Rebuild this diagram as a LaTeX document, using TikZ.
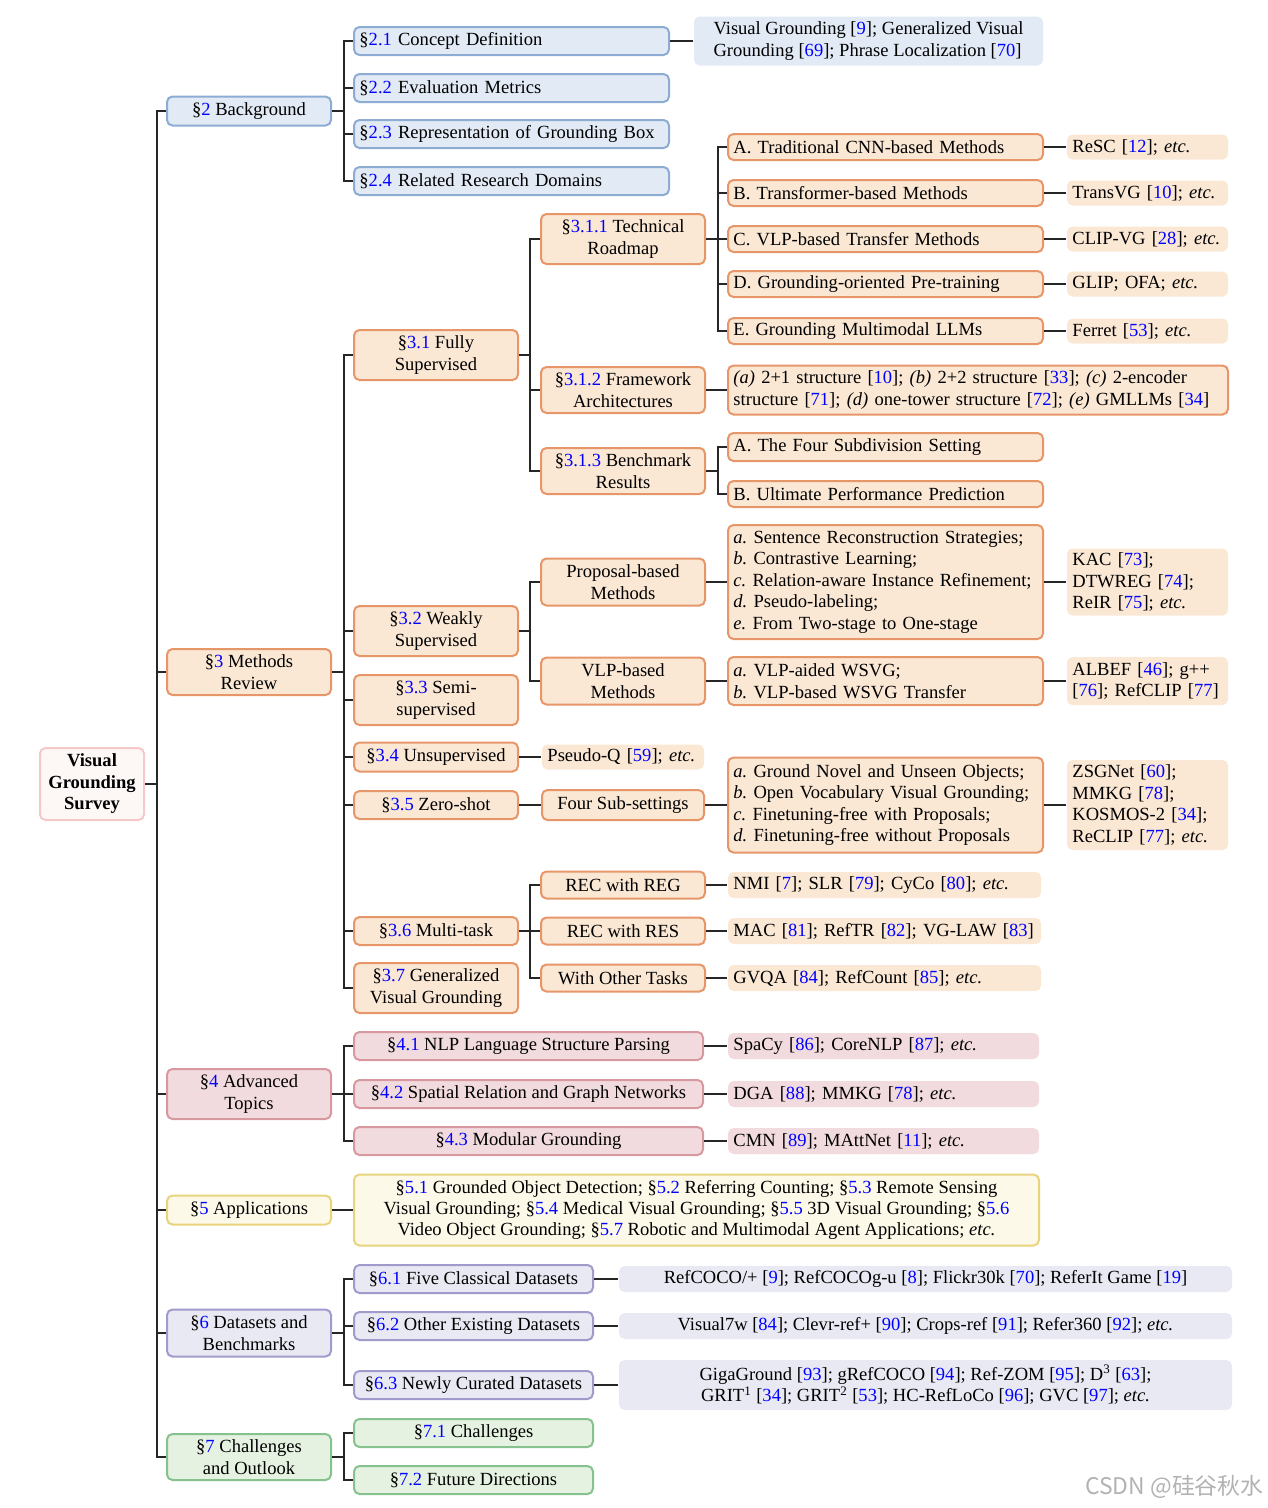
\documentclass[tikz,border=0pt]{standalone}
\usepackage{fontspec}
\setmainfont{Liberation Serif}
\newfontfamily\wmfont{Noto Sans CJK SC}
\newlength\pxu
\setlength\pxu{0.55pt}
\definecolor{secblue}{RGB}{0,0,255}
\definecolor{bluF}{RGB}{226,234,245}
\definecolor{bluD}{RGB}{140,172,212}
\definecolor{oraF}{RGB}{250,231,212}
\definecolor{oraD}{RGB}{231,150,106}
\definecolor{pnkF}{RGB}{242,219,222}
\definecolor{pnkD}{RGB}{216,152,160}
\definecolor{yelF}{RGB}{253,249,233}
\definecolor{yelD}{RGB}{233,212,126}
\definecolor{lavF}{RGB}{233,233,244}
\definecolor{lavD}{RGB}{160,155,204}
\definecolor{grnF}{RGB}{230,242,225}
\definecolor{grnD}{RGB}{134,194,142}
\definecolor{rootF}{RGB}{253,247,246}
\definecolor{rootD}{RGB}{246,200,200}
\newcommand\secn[1]{\textcolor{secblue}{#1}}
\newcommand\cit[1]{[\textcolor{secblue}{#1}]}
\newcommand\etcx{\textit{etc.}}
\newcommand\tbranch[3]{\draw[conn] (#1.east) -| ([xshift=-#3\pxu]#2.west) -- (#2.west);}
\newcommand\tlink[2]{\draw[conn] (#1.east) -- (#2.west);}
\newcommand\basefont{\fontsize{10.2}{11.8}\selectfont\frenchspacing\hyphenpenalty=10000\exhyphenpenalty=10000}
\tikzset{
  every node/.style={font=\basefont, inner xsep=3pt, inner ysep=1pt},
  bx/.style 2 args={rounded corners=3pt, line width=1.1pt, minimum width=#1*\pxu, minimum height=#2*\pxu, anchor=west},
  lt/.style 2 args={bx={#1}{#2}, text width=#1*\pxu-6pt, align=left},
  ct/.style 2 args={bx={#1}{#2}, align=center},
  cB/.style={draw=bluD, fill=bluF},
  cO/.style={draw=oraD, fill=oraF},
  cP/.style={draw=pnkD, fill=pnkF},
  cY/.style={draw=yelD, fill=yelF},
  cL/.style={draw=lavD, fill=lavF},
  cG/.style={draw=grnD, fill=grnF},
  cR/.style={draw=rootD, fill=rootF},
  pB/.style={fill=bluF, draw=none},
  pO/.style={fill=oraF, draw=none},
  pP/.style={fill=pnkF, draw=none},
  pL/.style={fill=lavF, draw=none},
  conn/.style={line width=0.6pt, draw=black!85},
}
\begin{document}
\begin{tikzpicture}[x=0.55pt, y=-0.55pt]
\useasboundingbox (0,0) rectangle (1268,1508);
% root
\node[ct={104}{72}, cR, font=\basefont\bfseries] (root) at (39,784) {Visual\\Grounding\\Survey};
% level 1
\node[ct={164}{29}, cB] (s2) at (166,111) {§\secn{2} Background};
\node[ct={164}{46}, cO] (s3) at (166,672) {§\secn{3} Methods\\Review};
\node[ct={164}{50}, cP] (s4) at (166,1094) {§\secn{4} Advanced\\Topics};
\node[ct={164}{29}, cY] (s5) at (166,1210) {§\secn{5} Applications};
\node[ct={164}{47}, cL] (s6) at (166,1333) {§\secn{6} Datasets and\\Benchmarks};
\node[ct={164}{46}, cG] (s7) at (166,1457) {§\secn{7} Challenges\\and Outlook};
% section 2
\node[lt={315}{28}, cB] (s21) at (353,41) {§\secn{2.1} Concept Definition};
\node[lt={315}{28}, cB] (s22) at (353,88) {§\secn{2.2} Evaluation Metrics};
\node[lt={315}{28}, cB] (s23) at (353,134) {§\secn{2.3} Representation of Grounding Box};
\node[lt={315}{28}, cB] (s24) at (353,181) {§\secn{2.4} Related Research Domains};
\node[bx={349}{49}, pB, align=left] (l21) at (693,41) {Visual Grounding \cit{9}; Generalized Visual\\Grounding \cit{69}; Phrase Localization \cit{70}};
% section 3
\node[ct={164}{50}, cO] (s31) at (353,355) {§\secn{3.1} Fully\\Supervised};
\node[ct={164}{50}, cO] (s32) at (353,631) {§\secn{3.2} Weakly\\Supervised};
\node[ct={164}{50}, cO] (s33) at (353,700) {§\secn{3.3} Semi-\\supervised};
\node[ct={164}{29}, cO] (s34) at (353,757) {§\secn{3.4} Unsupervised};
\node[ct={164}{28}, cO] (s35) at (353,805) {§\secn{3.5} Zero-shot};
\node[ct={164}{28}, cO] (s36) at (353,931) {§\secn{3.6} Multi-task};
\node[ct={164}{50}, cO] (s37) at (353,988) {§\secn{3.7} Generalized\\Visual Grounding};
% 3.1
\node[ct={164}{50}, cO] (s311) at (540,239) {§\secn{3.1.1} Technical\\Roadmap};
\node[ct={164}{46}, cO] (s312) at (540,390) {§\secn{3.1.2} Framework\\Architectures};
\node[ct={164}{46}, cO] (s313) at (540,471) {§\secn{3.1.3} Benchmark\\Results};
\node[lt={315}{26}, cO] (tA) at (727,147) {A. Traditional CNN-based Methods};
\node[lt={315}{26}, cO] (tB) at (727,193) {B. Transformer-based Methods};
\node[lt={315}{26}, cO] (tC) at (727,239) {C. VLP-based Transfer Methods};
\node[lt={315}{26}, cO] (tD) at (727,284) {D. Grounding-oriented Pre-training};
\node[lt={315}{26}, cO] (tE) at (727,331) {E. Grounding Multimodal LLMs};
\node[lt={161}{25}, pO] (rA) at (1066,147) {ReSC \cit{12}; \etcx};
\node[lt={161}{25}, pO] (rB) at (1066,193) {TransVG \cit{10}; \etcx};
\node[lt={161}{25}, pO] (rC) at (1066,239) {CLIP-VG \cit{28}; \etcx};
\node[lt={161}{25}, pO] (rD) at (1066,284) {GLIP; OFA; \etcx};
\node[lt={161}{25}, pO] (rE) at (1066,331) {Ferret \cit{53}; \etcx};
\node[lt={500}{49}, cO] (fA) at (727,390) {\textit{(a)} 2+1 structure \cit{10}; \textit{(b)} 2+2 structure \cit{33}; \textit{(c)} 2-encoder\\structure \cit{71}; \textit{(d)} one-tower structure \cit{72}; \textit{(e)} GMLLMs \cit{34}};
\node[lt={315}{28}, cO] (bA) at (727,447) {A. The Four Subdivision Setting};
\node[lt={315}{26}, cO] (bB) at (727,494) {B. Ultimate Performance Prediction};
% 3.2
\node[ct={164}{47}, cO] (pb) at (540,582) {Proposal-based\\Methods};
\node[ct={164}{47}, cO] (vb) at (540,681) {VLP-based\\Methods};
\node[lt={315}{114}, cO] (pl) at (727,582) {\textit{a.} Sentence Reconstruction Strategies;\\\textit{b.} Contrastive Learning;\\\textit{c.} Relation-aware Instance Refinement;\\\textit{d.} Pseudo-labeling;\\\textit{e.} From Two-stage to One-stage};
\node[lt={161}{67}, pO] (pr) at (1066,582) {KAC \cit{73};\\DTWREG \cit{74};\\ReIR \cit{75}; \etcx};
\node[lt={315}{48}, cO] (vl) at (727,681) {\textit{a.} VLP-aided WSVG;\\\textit{b.} VLP-based WSVG Transfer};
\node[lt={161}{48}, pO] (vr) at (1066,681) {ALBEF \cit{46}; g++\\\cit{76}; RefCLIP \cit{77}};
% 3.4 / 3.5
\node[lt={162}{25}, pO] (ul) at (541,757) {Pseudo-Q \cit{59}; \etcx};
\node[ct={162}{30}, cO] (zb) at (541,805) {Four Sub-settings};
\node[lt={315}{95}, cO] (zl) at (727,805) {\textit{a.} Ground Novel and Unseen Objects;\\\textit{b.} Open Vocabulary Visual Grounding;\\\textit{c.} Finetuning-free with Proposals;\\\textit{d.} Finetuning-free without Proposals};
\node[lt={161}{90}, pO] (zr) at (1066,805) {ZSGNet \cit{60};\\MMKG \cit{78};\\KOSMOS-2 \cit{34};\\ReCLIP \cit{77}; \etcx};
% 3.6
\node[ct={164}{27}, cO] (m1) at (540,885) {REC with REG};
\node[ct={164}{27}, cO] (m2) at (540,931) {REC with RES};
\node[ct={164}{27}, cO] (m3) at (540,978) {With Other Tasks};
\node[lt={313}{26}, pO] (n1) at (727,885) {NMI \cit{7}; SLR \cit{79}; CyCo \cit{80}; \etcx};
\node[lt={313}{26}, pO] (n2) at (727,931) {MAC \cit{81}; RefTR \cit{82}; VG-LAW \cit{83}};
\node[lt={313}{26}, pO] (n3) at (727,978) {GVQA \cit{84}; RefCount \cit{85}; \etcx};
% section 4
\node[ct={349}{28}, cP] (a1) at (353,1046) {§\secn{4.1} NLP Language Structure Parsing};
\node[ct={349}{28}, cP] (a2) at (353,1094) {§\secn{4.2} Spatial Relation and Graph Networks};
\node[ct={349}{28}, cP] (a3) at (353,1141) {§\secn{4.3} Modular Grounding};
\node[lt={311}{26}, pP] (e1) at (727,1046) {SpaCy \cit{86}; CoreNLP \cit{87}; \etcx};
\node[lt={311}{26}, pP] (e2) at (727,1094) {DGA \cit{88}; MMKG \cit{78}; \etcx};
\node[lt={311}{26}, pP] (e3) at (727,1141) {CMN \cit{89}; MAttNet \cit{11}; \etcx};
% section 5
\node[ct={685}{71}, cY] (ap) at (353,1210) {§\secn{5.1} Grounded Object Detection; §\secn{5.2} Referring Counting; §\secn{5.3} Remote Sensing\\Visual Grounding; §\secn{5.4} Medical Visual Grounding; §\secn{5.5} 3D Visual Grounding; §\secn{5.6}\\Video Object Grounding; §\secn{5.7} Robotic and Multimodal Agent Applications; \etcx};
% section 6
\node[ct={239}{28}, cL] (d1) at (353,1279) {§\secn{6.1} Five Classical Datasets};
\node[ct={239}{28}, cL] (d2) at (353,1326) {§\secn{6.2} Other Existing Datasets};
\node[ct={239}{28}, cL] (d3) at (353,1385) {§\secn{6.3} Newly Curated Datasets};
\node[ct={613}{26}, pL] (g1) at (618,1279) {RefCOCO/+ \cit{9}; RefCOCOg-u \cit{8}; Flickr30k \cit{70}; ReferIt Game \cit{19}};
\node[ct={613}{26}, pL] (g2) at (618,1326) {Visual7w \cit{84}; Clevr-ref+ \cit{90}; Crops-ref \cit{91}; Refer360 \cit{92}; \etcx};
\node[ct={613}{50}, pL] (g3) at (618,1385) {GigaGround \cit{93}; gRefCOCO \cit{94}; Ref-ZOM \cit{95}; D\textsuperscript{3} \cit{63};\\GRIT\textsuperscript{1} \cit{34}; GRIT\textsuperscript{2} \cit{53}; HC-RefLoCo \cit{96}; GVC \cit{97}; \etcx};
% section 7
\node[ct={239}{28}, cG] (c1) at (353,1433) {§\secn{7.1} Challenges};
\node[ct={239}{28}, cG] (c2) at (353,1480) {§\secn{7.2} Future Directions};
% watermark
\node[anchor=east, text=black!30, font=\wmfont\fontsize{12.6}{15}\selectfont, inner sep=0pt] (wm) at (1264,1487) {CSDN @硅谷秋水};
% connectors
\foreach \c in {s2,s3,s4,s5,s6,s7} {\tbranch{root}{\c}{9}}
\foreach \c in {s21,s22,s23,s24} {\tbranch{s2}{\c}{9}}
\foreach \c in {s31,s32,s33,s34,s35,s36,s37} {\tbranch{s3}{\c}{9}}
\foreach \c in {s311,s312,s313} {\tbranch{s31}{\c}{10}}
\foreach \c in {tA,tB,tC,tD,tE} {\tbranch{s311}{\c}{9}}
\foreach \c in {bA,bB} {\tbranch{s313}{\c}{9}}
\foreach \c in {pb,vb} {\tbranch{s32}{\c}{10}}
\foreach \c in {m1,m2,m3} {\tbranch{s36}{\c}{10}}
\foreach \c in {a1,a2,a3} {\tbranch{s4}{\c}{9}}
\foreach \c in {d1,d2,d3} {\tbranch{s6}{\c}{9}}
\foreach \c in {c1,c2} {\tbranch{s7}{\c}{9}}
\tlink{s21}{l21}
\tlink{tA}{rA}\tlink{tB}{rB}\tlink{tC}{rC}\tlink{tD}{rD}\tlink{tE}{rE}
\tlink{s312}{fA}
\tlink{pb}{pl}\tlink{pl}{pr}\tlink{vb}{vl}\tlink{vl}{vr}
\tlink{s34}{ul}\tlink{s35}{zb}\tlink{zb}{zl}\tlink{zl}{zr}
\tlink{m1}{n1}\tlink{m2}{n2}\tlink{m3}{n3}
\tlink{a1}{e1}\tlink{a2}{e2}\tlink{a3}{e3}
\tlink{s5}{ap}
\tlink{d1}{g1}\tlink{d2}{g2}\tlink{d3}{g3}
\end{tikzpicture}
\end{document}
